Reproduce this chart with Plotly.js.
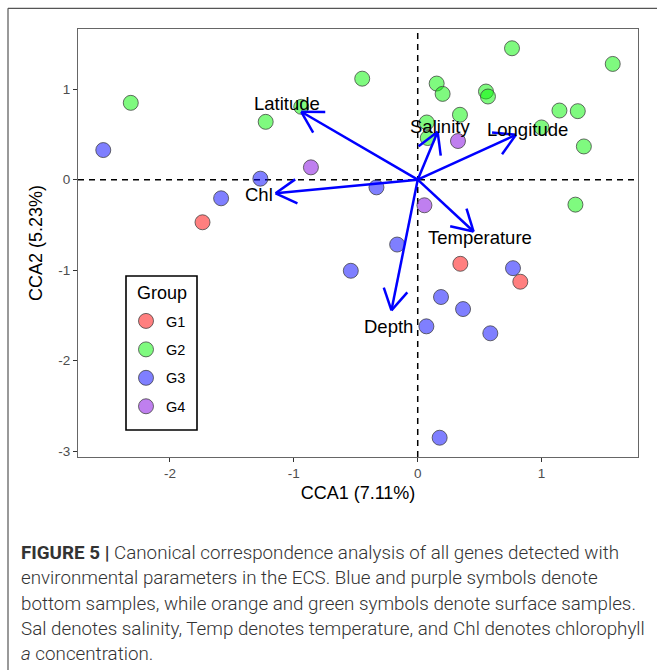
<!DOCTYPE html>
<html>
<head>
<meta charset="utf-8">
<script src="https://cdn.plot.ly/plotly-3.0.1.min.js"></script>
<style>html,body{margin:0;padding:0;background:#fff;}</style>
</head>
<body>
<div id="chart" style="width:657px;height:670px;"></div>
<script>
// ---- data ----
const groupNames = ['G1', 'G2', 'G3', 'G4'];
const legendTitle = 'Group';
const g1x = [-1.737, 0.344, 0.828];
const g1y = [-0.471, -0.930, -1.128];
const g2x = [-2.316, -1.227, -0.940, -0.448, 0.153, 0.201, 0.761, 1.574, 0.551, 0.567, 0.341, 1.144, 1.292, 0.999, 1.341, 0.073, 0.081, 1.273];
const g2y = [0.849, 0.639, 0.805, 1.116, 1.062, 0.948, 1.452, 1.279, 0.974, 0.919, 0.717, 0.764, 0.757, 0.577, 0.367, 0.632, 0.460, -0.276];
const g3x = [-2.538, -1.587, -1.270, -0.333, -0.166, -0.540, 0.769, 0.188, 0.366, 0.070, 0.586, 0.177];
const g3y = [0.327, -0.206, 0.011, -0.085, -0.717, -1.007, -0.978, -1.297, -1.430, -1.621, -1.698, -2.852];
const g4x = [-0.862, 0.325, 0.054];
const g4y = [0.136, 0.427, -0.283];

const envNames = ['Latitude', 'Chl', 'Salinity', 'Longitude', 'Temperature', 'Depth'];
const envX = [-0.940, -1.147, 0.161, 0.793, 0.451, -0.212];
const envY = [0.750, -0.151, 0.529, 0.496, -0.573, -1.444];

const xTickVals = [-2, -1, 0, 1];
const xTickText = ['-2', '-1', '0', '1'];
const yTickVals = [1, 0, -1, -2, -3];
const yTickText = ['1', '0', '-1', '-2', '-3'];

const captionLines = [
  '<b>FIGURE 5 |</b> Canonical correspondence analysis of all genes detected with',
  'environmental parameters in the ECS. Blue and purple symbols denote',
  'bottom samples, while orange and green symbols denote surface samples.',
  'Sal denotes salinity, Temp denotes temperature, and Chl denotes chlorophyll',
  '<i>a</i> concentration.'
];

// ---- layout geometry ----
const W = 657, H = 670;
const M = {l: 78, r: 19, t: 29, b: 213};
const xRange = [-2.742, 1.778];
const yRange = [-3.065, 1.665];
const plotW = W - M.l - M.r, plotH = H - M.t - M.b;
const pxToPaperX = px => (px - M.l) / plotW;
const pxToPaperY = py => 1 - (py - M.t) / plotH;

const colors = ['rgba(255,0,0,0.5)', 'rgba(0,245,0,0.5)', 'rgba(0,0,255,0.5)', 'rgba(128,0,224,0.5)'];
const xs = [g1x, g2x, g3x, g4x];
const ys = [g1y, g2y, g3y, g4y];

const traces = groupNames.map((g, i) => ({
  type: 'scatter', mode: 'markers', name: g, legendgroup: g,
  x: xs[i], y: ys[i],
  marker: {size: 15, color: colors[i], line: {color: 'rgba(60,60,60,0.75)', width: 1}},
  hoverinfo: 'x+y+name'
}));

// arrows: shaft + open heads, computed through the axis scales
const sx = plotW / (xRange[1] - xRange[0]);
const sy = plotH / (yRange[1] - yRange[0]);
const headLen = 24, headAng = 30 * Math.PI / 180;
const ax = [], ay = [];
envX.forEach((tx, i) => {
  const ty = envY[i];
  ax.push(0, tx, null);
  ay.push(0, ty, null);
  const th = Math.atan2(ty * sy, tx * sx);
  [headAng, -headAng].forEach(a => {
    const hx = tx - headLen * Math.cos(th + a) / sx;
    const hy = ty - headLen * Math.sin(th + a) / sy;
    ax.push(tx, hx, null);
    ay.push(ty, hy, null);
  });
});
traces.push({
  type: 'scatter', mode: 'lines', x: ax, y: ay, showlegend: false, hoverinfo: 'skip',
  line: {color: '#0000FF', width: 2.5}
});

const labelFactor = 1.12;
const annotations = envNames.map((n, i) => ({
  x: envX[i] * labelFactor, y: envY[i] * labelFactor, xref: 'x', yref: 'y',
  text: n, showarrow: false, font: {family: 'Liberation Sans', size: 18.5, color: '#000'}
}));

// legend title
annotations.push({
  xref: 'paper', yref: 'paper', x: pxToPaperX(161.5), y: pxToPaperY(293),
  xanchor: 'center', yanchor: 'middle', showarrow: false, text: legendTitle,
  font: {family: 'Liberation Sans', size: 18, color: '#000'}
});

const capY = [552.7, 578, 604, 629, 654];
captionLines.forEach((t, i) => {
  annotations.push({
    xref: 'paper', yref: 'paper', x: pxToPaperX(19), y: pxToPaperY(capY[i]),
    xanchor: 'left', yanchor: 'middle', align: 'left', showarrow: false, text: t,
    font: {family: 'Roboto', size: 18.8, color: '#333', weight: 300}
  });
});

const layout = {
  width: W, height: H, margin: M,
  paper_bgcolor: '#fff', plot_bgcolor: '#fff',
  font: {family: 'Liberation Sans', color: '#000'},
  showlegend: true,
  legend: {
    x: pxToPaperX(126), y: pxToPaperY(305), xanchor: 'left', yanchor: 'top',
    bgcolor: 'rgba(0,0,0,0)', borderwidth: 0,
    font: {size: 14.5, color: '#000'}, tracegroupgap: 6.6
  },
  xaxis: {
    range: xRange, tickvals: xTickVals, ticktext: xTickText,
    ticks: 'outside', ticklen: 4, tickwidth: 1, tickcolor: '#333',
    tickfont: {size: 13.5, color: '#4d4d4d'},
    showline: true, mirror: true, linecolor: '#666', linewidth: 1,
    showgrid: false, zeroline: false,
    title: {text: 'CCA1 (7.11%)', font: {size: 18, color: '#000'}, standoff: 6}
  },
  yaxis: {
    range: yRange, tickvals: yTickVals, ticktext: yTickText,
    ticks: 'outside', ticklen: 4, tickwidth: 1, tickcolor: '#333',
    tickfont: {size: 13.5, color: '#4d4d4d'},
    showline: true, mirror: true, linecolor: '#666', linewidth: 1,
    showgrid: false, zeroline: false,
    title: {text: 'CCA2 (5.23%)', font: {size: 18, color: '#000'}, standoff: 10}
  },
  shapes: [
    {type: 'line', xref: 'x', yref: 'paper', x0: 0, x1: 0, y0: 0, y1: 1, layer: 'below',
     line: {color: '#000', width: 1.5, dash: '6px,5px'}},
    {type: 'line', xref: 'paper', yref: 'y', x0: 0, x1: 1, y0: 0, y1: 0, layer: 'below',
     line: {color: '#000', width: 1.5, dash: '6px,5px'}},
    {type: 'rect', xref: 'paper', yref: 'paper', layer: 'above',
     x0: pxToPaperX(126), x1: pxToPaperX(197), y0: pxToPaperY(276), y1: pxToPaperY(430),
     fillcolor: 'rgba(0,0,0,0)', line: {color: '#000', width: 1.6}},
    {type: 'line', xref: 'paper', yref: 'paper', x0: pxToPaperX(8), x1: pxToPaperX(660), y0: pxToPaperY(8.3), y1: pxToPaperY(8.3),
     line: {color: '#555', width: 1.2}},
    {type: 'line', xref: 'paper', yref: 'paper', x0: pxToPaperX(8), x1: pxToPaperX(8), y0: pxToPaperY(8.3), y1: pxToPaperY(675),
     line: {color: '#555', width: 1.2}}
  ],
  annotations: annotations
};

Plotly.newPlot('chart', traces, layout, {displayModeBar: false, staticPlot: true});
</script>
</body>
</html>
